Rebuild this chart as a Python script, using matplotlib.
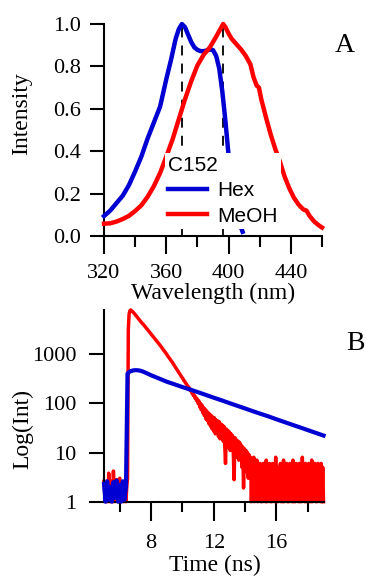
import numpy as np
import matplotlib
matplotlib.use("Agg")
import matplotlib.pyplot as plt
from matplotlib.ticker import NullLocator, FixedLocator

# ---------------- Panel A: steady-state emission of C152 ----------------
wl_hex = [320, 324, 328, 332, 336, 340, 344, 348, 352, 356, 360, 363, 366, 368,
          370, 372, 374, 376, 378, 380, 382, 384, 386, 388, 390, 392, 394, 396,
          398, 400, 403, 406, 409]
int_hex = [0.094, 0.12, 0.155, 0.19, 0.24, 0.305, 0.375, 0.46, 0.535, 0.61, 0.74,
           0.83, 0.93, 0.975, 1.0, 0.985, 0.95, 0.915, 0.89, 0.878, 0.872, 0.872,
           0.875, 0.88, 0.877, 0.85, 0.79, 0.68, 0.54, 0.38, 0.2, 0.08, 0.02]

wl_meoh = [320, 324, 328, 332, 336, 340, 344, 348, 352, 356, 360, 364, 368, 372,
           376, 380, 384, 388, 392, 395, 396.5, 398, 400, 402, 405, 408, 411, 414,
           416, 418, 419.5, 421, 424, 427, 430, 433, 436, 439, 442, 445, 448, 450,
           452, 455, 458, 460]
int_meoh = [0.058, 0.06, 0.068, 0.08, 0.095, 0.118, 0.145, 0.185, 0.235, 0.297,
            0.375, 0.455, 0.55, 0.645, 0.73, 0.805, 0.855, 0.89, 0.94, 0.98, 1.0,
            0.985, 0.955, 0.93, 0.905, 0.88, 0.85, 0.81, 0.75, 0.71, 0.70, 0.645,
            0.56, 0.48, 0.41, 0.35, 0.28, 0.225, 0.18, 0.148, 0.125, 0.12, 0.095,
            0.068, 0.05, 0.04]

wavelength_major = [320, 360, 400, 440]
wavelength_minor = [340, 380, 420, 460]
intensity_ticks = [0.0, 0.2, 0.4, 0.6, 0.8, 1.0]

# ---------------- Panel B: time-resolved fluorescence ----------------
hex_time = [5.0, 5.1, 5.2, 5.3, 5.4, 5.5, 5.6, 5.7, 5.8, 5.9, 6.0, 6.1, 6.2, 6.3,
            6.4, 6.5, 6.6, 6.7, 6.8, 6.9, 7.0, 7.1, 7.3, 7.5, 8.0, 8.5, 9.0, 9.5,
            10.0, 10.5, 11.0, 11.5, 12.0, 12.5, 13.0, 13.5, 14.0, 14.5, 15.0, 15.5,
            16.0, 16.5, 17.0, 17.5, 18.0, 18.5, 19.0]
hex_counts = [2.3, 1.0, 2.6, 1.1, 2.0, 1.0, 2.5, 1.2, 2.7, 1.0, 2.2, 1.0, 2.6, 1.1,
              2.0, 405, 432, 450, 462, 468, 471, 471, 462, 440, 372, 320, 275, 243,
              214, 190, 168, 148, 130, 115, 101, 89, 78.5, 69, 61, 54, 47.3, 41.7,
              36.7, 32.4, 28.5, 25.1, 22.1]

# MeOH decay histogram: 0.05 ns bins starting at 5.0 ns
meoh_t0 = 5.0
meoh_bin = 0.05
meoh_counts = [
    # 5.00 - 6.50 ns, before excitation
    2.6, 1.4, 1.0, 2.2, 2.0, 1.0, 3.8, 1.6, 1.0, 2.6, 2.4, 1.0, 4.2, 1.8, 1.0, 2.2,
    2.8, 1.2, 1.0, 2.5, 3.0, 1.0, 1.6, 2.0, 2.2, 1.0, 1.4, 2.5, 1.0, 2.0, 3.0,
    # 6.55 - 7.00
    3200, 6500, 7600, 7900, 7700, 7450, 7180, 6900, 6600, 6300,
    # 7.05 - 8.00
    6020, 5750, 5500, 5250, 5020, 4800, 4570, 4350, 4200, 4050,
    3870, 3700, 3550, 3400, 3250, 3100, 2950, 2800, 2680, 2570,
    # 8.05 - 9.00
    2460, 2350, 2250, 2150, 2050, 1950, 1860, 1780, 1700, 1620,
    1550, 1480, 1410, 1350, 1270, 1200, 1150, 1100, 1040, 980,
    # 9.05 - 10.00
    935, 890, 845, 800, 760, 720, 685, 650, 610, 575,
    545, 515, 488, 460, 435, 410, 388, 365, 345, 325,
    # 10.05 - 11.00
    310, 288, 278, 258, 250, 232, 224, 206, 204, 184,
    182, 162, 164, 144, 148, 128, 134, 114, 122, 100,
    # 11.05 - 12.00
    112, 84, 100, 74, 92, 64, 82, 56, 76, 48,
    70, 44, 64, 38, 60, 34, 56, 30, 52, 27,
    # 12.05 - 13.00
    50, 24, 46, 30, 44, 21, 42, 19, 38, 24,
    36, 17, 34, 15, 6, 30, 13, 28, 16, 26,
    # 13.05 - 14.00
    11, 24, 13, 22, 9, 2.8, 20, 8, 18, 10,
    17, 7, 16, 8, 14, 5, 13, 1.9, 12, 5,
    # 14.05 - 15.00
    11, 4, 10, 3, 9, 4, 8, 1, 7, 2,
    8, 1, 6, 2, 7, 1, 5, 1.5, 6, 1,
    # 15.05 - 19.00, background
    5, 1, 6, 2, 4, 1, 7, 1, 5, 1.5,
    6, 1, 4, 1, 6, 2, 5, 1, 8, 1,
    5, 1, 4, 2, 6, 1, 5, 1, 7, 1,
    4, 1.5, 6, 1, 5, 1, 6, 2, 4, 1,
    7, 1, 5, 1, 6, 2, 4, 1, 6, 1,
    5, 1, 8, 1.5, 5, 1, 6, 1, 4, 2,
    6, 1, 5, 1, 7, 1, 4, 2, 6, 1,
    5, 1, 6, 1.5, 4, 1, 6, 1, 5, 1]
meoh_time = meoh_t0 + meoh_bin * np.arange(len(meoh_counts))

time_major = [8, 12, 16]
time_minor = [6, 10, 14, 18]
count_ticks = [1, 10, 100, 1000]
count_labels = ["1", "10", "100", "1000"]

# ---------------- styling ----------------
SERIF = "Liberation Serif"
SANS = "Liberation Sans"
BLUE = "#0000d2"
RED = "#ff0000"
plt.rcParams["font.family"] = SERIF

fig = plt.figure(figsize=(3.66, 5.81), dpi=100)
axA = fig.add_axes([0.2842, 0.5938, 0.5956, 0.3649])
axB = fig.add_axes([0.2842, 0.1365, 0.5997, 0.33])

for ax in (axA, axB):
    for side in ("top", "right"):
        ax.spines[side].set_visible(False)
    for side in ("left", "bottom"):
        ax.spines[side].set_linewidth(1.5)

# Panel A curves
peak_hex = wl_hex[int(np.argmax(int_hex))]
peak_meoh = wl_meoh[int(np.argmax(int_meoh))]
for p, top in ((peak_hex, max(int_hex)), (peak_meoh, max(int_meoh))):
    axA.plot([p, p], [0, top], color="black", lw=1.3, dashes=(5.5, 4.5),
             zorder=2, clip_on=False)
lh, = axA.plot(wl_hex, int_hex, color=BLUE, lw=3.2, zorder=3, clip_on=False,
               label="Hex")
lm, = axA.plot(wl_meoh, int_meoh, color=RED, lw=3.2, zorder=3, clip_on=False,
               label="MeOH")
axA.set_xlim(320, 460)
axA.set_ylim(0, 1.0)
axA.xaxis.set_major_locator(FixedLocator(wavelength_major))
axA.xaxis.set_minor_locator(FixedLocator(wavelength_minor))
axA.set_yticks(intensity_ticks)
axA.set_yticklabels([f"{v:.1f}" for v in intensity_ticks])
axA.tick_params(axis="x", which="major", direction="out", length=13, width=1.5,
                pad=7.5, labelsize=16)
axA.tick_params(axis="x", which="minor", direction="out", length=8, width=1.5)
axA.tick_params(axis="y", which="major", direction="out", length=10, width=1.5,
                pad=6.5, labelsize=16)
axA.set_xlabel("Wavelength (nm)", fontsize=17)
axA.set_ylabel("Intensity", fontsize=17)
axA.xaxis.set_label_coords(0.5, -0.222)
axA.yaxis.set_label_coords(-0.33, 0.578)

leg = axA.legend(handles=[lh, lm], title="C152", loc="upper left",
                 bbox_to_anchor=(0.28, 0.3915), borderaxespad=0, borderpad=0.15,
                 frameon=True, facecolor="white", edgecolor="none", framealpha=1,
                 fancybox=False, prop={"family": SANS, "size": 15},
                 title_fontproperties={"family": SANS, "size": 15},
                 handlelength=1.85, handletextpad=0.5, labelspacing=0.3,
                 alignment="left")

# Panel B decays
axB.plot(meoh_time, meoh_counts, color=RED, lw=2.5, zorder=2, clip_on=False)
axB.plot(hex_time, hex_counts, color=BLUE, lw=3.0, zorder=3, clip_on=False)
axB.set_yscale("log")
axB.set_xlim(5, 19)
axB.set_ylim(1, 7900)
axB.yaxis.set_major_locator(FixedLocator(count_ticks))
axB.yaxis.set_minor_locator(NullLocator())
axB.set_yticklabels(count_labels)
axB.xaxis.set_major_locator(FixedLocator(time_major))
axB.xaxis.set_minor_locator(FixedLocator(time_minor))
axB.tick_params(axis="x", which="major", direction="out", length=13.5, width=1.5,
                pad=9.5, labelsize=16)
axB.tick_params(axis="x", which="minor", direction="out", length=7, width=1.5)
axB.tick_params(axis="y", which="major", direction="out", length=11, width=1.5,
                pad=9, labelsize=16)
axB.set_xlabel("Time (ns)", fontsize=17)
axB.set_ylabel("Log(Int)", fontsize=17)
axB.xaxis.set_label_coords(0.507, -0.276)
axB.yaxis.set_label_coords(-0.324, 0.379)

fig.text(335 / 366, 1 - 52.3 / 581, "A", fontsize=20, ha="left", va="baseline")
fig.text(346.7 / 366, 1 - 350 / 581, "B", fontsize=20, ha="left", va="baseline")

fig.savefig("out.png", dpi=100)
